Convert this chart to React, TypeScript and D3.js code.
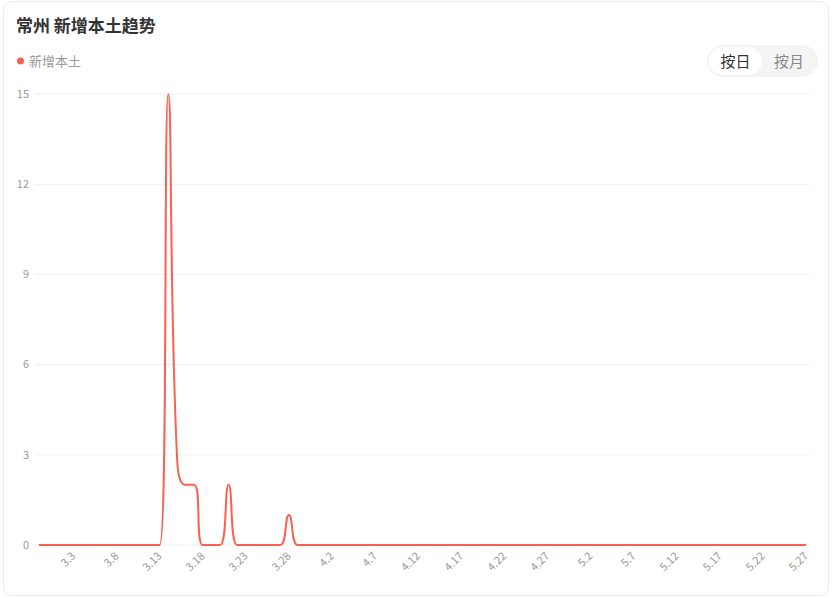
import React from 'react';
import * as d3 from 'd3';

const title = '常州 新增本土趋势';
const seriesName = '新增本土';
const toggleLabels = ['按日', '按月'];

const dates = [
  '2.27', '2.28',
  '3.1', '3.2', '3.3', '3.4', '3.5', '3.6', '3.7', '3.8', '3.9', '3.10',
  '3.11', '3.12', '3.13', '3.14', '3.15', '3.16', '3.17', '3.18', '3.19', '3.20',
  '3.21', '3.22', '3.23', '3.24', '3.25', '3.26', '3.27', '3.28', '3.29', '3.30', '3.31',
  '4.1', '4.2', '4.3', '4.4', '4.5', '4.6', '4.7', '4.8', '4.9', '4.10',
  '4.11', '4.12', '4.13', '4.14', '4.15', '4.16', '4.17', '4.18', '4.19', '4.20',
  '4.21', '4.22', '4.23', '4.24', '4.25', '4.26', '4.27', '4.28', '4.29', '4.30',
  '5.1', '5.2', '5.3', '5.4', '5.5', '5.6', '5.7', '5.8', '5.9', '5.10',
  '5.11', '5.12', '5.13', '5.14', '5.15', '5.16', '5.17', '5.18', '5.19', '5.20',
  '5.21', '5.22', '5.23', '5.24', '5.25', '5.26', '5.27',
];

const values = [
  0, 0,
  0, 0, 0, 0, 0, 0, 0, 0, 0, 0,
  0, 0, 0, 15, 3, 2, 2, 0, 0, 0,
  2, 0, 0, 0, 0, 0, 0, 1, 0, 0, 0,
  0, 0, 0, 0, 0, 0, 0, 0, 0, 0,
  0, 0, 0, 0, 0, 0, 0, 0, 0, 0,
  0, 0, 0, 0, 0, 0, 0, 0, 0, 0,
  0, 0, 0, 0, 0, 0, 0, 0, 0, 0,
  0, 0, 0, 0, 0, 0, 0, 0, 0, 0,
  0, 0, 0, 0, 0, 0, 0,
];

const tickLabels = [
  '3.3', '3.8', '3.13', '3.18', '3.23', '3.28', '4.2', '4.7', '4.12', '4.17',
  '4.22', '4.27', '5.2', '5.7', '5.12', '5.17', '5.22', '5.27',
];

const yTicks = [0, 3, 6, 9, 12, 15];

const FONT = '"PingFang SC", "Noto Sans CJK SC", "Noto Sans", sans-serif';
const RED = '#fb6150';

// Smooth bezier line with clamped control points (no overshoot)
function smoothPath(pts: [number, number][], smooth = 0.5): string {
  const p = d3.path();
  let cpx0 = 0, cpy0 = 0, prevX = 0, prevY = 0;
  const clamp = (v: number, a: number, b: number) => Math.max(Math.min(v, Math.max(a, b)), Math.min(a, b));
  for (let k = 0; k < pts.length; k++) {
    const [x, y] = pts[k];
    if (k === 0) {
      p.moveTo(x, y);
      cpx0 = x;
      cpy0 = y;
    } else {
      let cpx1: number, cpy1: number;
      let nextCpx0 = x, nextCpy0 = y;
      if (k === pts.length - 1) {
        cpx1 = x;
        cpy1 = y;
      } else {
        const [nextX, nextY] = pts[k + 1];
        let vx = (nextX - prevX) * smooth;
        let vy = (nextY - prevY) * smooth;
        const lenPrev = Math.hypot(x - prevX, y - prevY);
        const lenNext = Math.hypot(nextX - x, nextY - y);
        const ratio = lenNext / (lenNext + lenPrev);
        nextCpx0 = clamp(x + vx * ratio, x, nextX);
        nextCpy0 = clamp(y + vy * ratio, y, nextY);
        vx = nextCpx0 - x;
        vy = nextCpy0 - y;
        cpx1 = clamp(x - (vx * lenPrev) / lenNext, prevX, x);
        cpy1 = clamp(y - (vy * lenPrev) / lenNext, prevY, y);
        vx = x - cpx1;
        vy = y - cpy1;
        nextCpx0 = x + (vx * lenNext) / lenPrev;
        nextCpy0 = y + (vy * lenNext) / lenPrev;
      }
      p.bezierCurveTo(cpx0, cpy0, cpx1, cpy1, x, y);
      cpx0 = nextCpx0;
      cpy0 = nextCpy0;
    }
    prevX = x;
    prevY = y;
  }
  return p.toString();
}

export default function App() {
  const W = 832;
  const H = 598;
  const plotLeft = 39;
  const plotRight = 806;
  const plotTop = 94;
  const plotBottom = 545;

  const x = d3.scalePoint<string>().domain(dates).range([plotLeft, plotRight]);
  const y = d3.scaleLinear().domain([0, 15]).range([plotBottom, plotTop]);

  const pts: [number, number][] = values.map((v, i) => [x(dates[i]) as number, y(v)]);

  return (
    <svg
      width={W}
      height={H}
      style={{ position: 'absolute', left: 0, top: 0, fontFamily: FONT }}
    >
      <rect x={3.5} y={1.5} width={825} height={594} rx={8} fill="#fff" stroke="#ececec" />
      <text x={16} y={32} fontSize={17} fontWeight={700} fill="#333">
        {title}
      </text>
      <circle cx={20.5} cy={61} r={3.5} fill={RED} />
      <text x={29} y={65.5} fontSize={13} fill="#999">
        {seriesName}
      </text>

      {/* toggle */}
      <rect x={707} y={45} width={111} height={32} rx={16} fill="#f4f4f4" />
      <rect x={709} y={47} width={53} height={28} rx={14} fill="#fff" />
      <text x={735.5} y={67} fontSize={15} textAnchor="middle" fill="#333">
        {toggleLabels[0]}
      </text>
      <text x={789} y={67} fontSize={15} textAnchor="middle" fill="#888">
        {toggleLabels[1]}
      </text>

      {/* grid + y labels */}
      {yTicks.map((t) => (
        <g key={t}>
          <line x1={35} x2={810} y1={y(t)} y2={y(t)} stroke="#f0f0f0" strokeWidth={1} />
          <text x={29} y={y(t)} dy="0.35em" fontSize={11} textAnchor="end" fill="#999">
            {t}
          </text>
        </g>
      ))}

      {/* x labels */}
      {tickLabels.map((lab) => {
        const px = x(lab) as number;
        return (
          <text
            key={lab}
            transform={`translate(${px},${554}) rotate(-45)`}
            dy="0.35em"
            fontSize={11}
            textAnchor="end"
            fill="#999"
          >
            {lab}
          </text>
        );
      })}

      <path d={smoothPath(pts, 0.5)} fill="none" stroke={RED} strokeWidth={2} strokeLinejoin="round" />
    </svg>
  );
}
